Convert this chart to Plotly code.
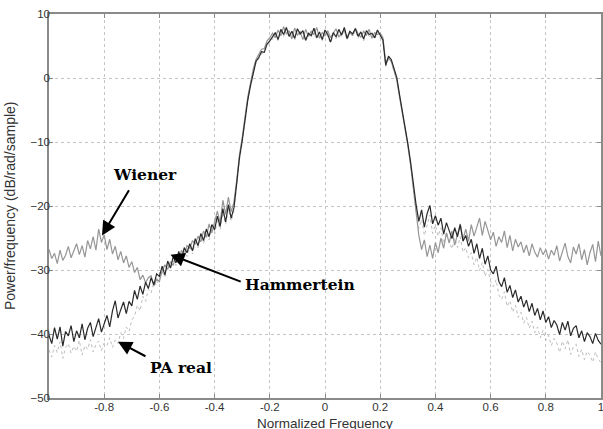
import numpy as np
import plotly.graph_objects as go

# Normalized frequency bins (x categories)
freq = np.round(np.arange(-1.0, 1.0001, 0.01), 2)

hammerstein = [
    -40.2, -41.5, -39.0, -40.8, -38.9, -41.9, -39.6, -40.3, -38.7, -41.2, -39.5, -40.6, -38.4, -40.9, -39.1, -38.2, -40.4, -38.8, -37.6, -39.7, -38.3,
    -37.1, -38.9, -36.4, -34.8, -37.5, -36.2, -35.0, -36.8, -34.9, -35.6,
    -33.2, -34.6, -32.5, -33.8, -31.9, -32.9, -31.2, -32.3, -30.6, -31.0,
    -29.4, -30.8, -28.6, -29.7, -27.9, -28.9, -27.1, -28.4, -26.5, -27.3,
    -25.9, -27.0, -25.1, -26.2, -24.3, -25.4, -23.6, -24.8, -22.9, -23.7,
    -21.6, -23.2, -20.4, -22.5, -19.8, -21.9, -20.3,
    -16.5, -12.5, -9.8, -6.2, -3.5, -1.2, 1.0, 2.6, 3.2, 4.1, 4.0, 5.3, 5.8,
    6.4, 7.1, 6.0, 7.6, 6.8, 7.9, 6.5, 7.3, 6.2, 7.7, 6.9, 7.4, 5.9, 7.0, 6.6, 7.8, 6.3, 7.2, 6.0, 7.5,
    6.8, 5.6, 7.1, 6.4, 7.6, 6.7, 7.9, 6.2, 7.3, 6.9, 7.7, 6.5, 7.2, 6.1, 7.4, 6.8, 7.0, 6.3, 7.5, 6.6, 5.9,
    2.0, 3.4, 2.9, 1.4, 0.1, -2.6, -5.1, -7.4, -10.2, -13.1, -16.8,
    -19.8, -22.4, -20.6, -23.3, -21.2, -19.9, -22.8, -21.5,
    -23.0, -21.9, -24.4, -22.6, -23.9, -25.1, -23.4, -24.8, -22.9, -25.5,
    -24.6, -26.3, -25.2, -27.4, -25.9, -28.2, -26.6, -29.1, -27.8, -30.0,
    -30.6, -29.4, -31.8, -32.6, -31.2, -33.5, -32.4, -34.3, -33.1, -35.0,
    -34.1, -35.8, -34.7, -36.5, -35.2, -37.1, -36.0, -37.8, -36.4, -38.2,
    -37.3, -39.0, -37.9, -38.6, -40.1, -38.2, -39.4, -38.0, -40.3, -39.1,
    -38.7, -40.6, -39.5, -41.2, -39.8, -40.4, -41.5, -39.9, -41.0, -41.6,
]

wiener = [
    -26.8, -28.2, -27.4, -29.0, -26.9, -28.5, -27.7, -26.3, -28.1, -27.0, -25.9, -27.6, -26.2, -28.0, -25.4, -26.7, -24.8, -26.9, -23.6, -25.7, -24.5,
    -26.8, -25.2, -27.5, -26.3, -28.4, -27.1, -28.9, -27.8, -29.6, -28.7,
    -30.4, -29.6, -31.5, -30.8, -32.0, -31.2, -30.9, -32.5, -31.4, -31.8,
    -30.1, -29.2, -29.9, -28.7, -29.3, -27.6, -28.5, -26.9, -27.8, -26.2,
    -26.6, -25.4, -26.0, -24.7, -25.6, -23.9, -24.9, -22.8, -24.2, -22.4,
    -20.8, -22.6, -19.1, -21.3, -18.6, -20.9, -19.4,
    -16.0, -12.0, -9.3, -5.8, -3.0, -0.8, 1.4, 2.9, 3.6, 4.5, 4.6, 5.8, 6.3,
    7.0, 6.3, 7.5, 6.6, 8.0, 6.9, 7.4, 6.1, 7.8, 6.7, 7.2, 6.0, 7.6, 6.5, 7.3, 6.8, 7.9, 6.2, 7.1, 6.6,
    7.4, 6.3, 6.9, 7.7, 6.4, 7.0, 7.5, 6.1, 7.2, 6.6, 7.8, 6.9, 6.4, 7.3, 6.7, 7.6, 6.2, 7.1, 6.8, 7.0, 6.3,
    2.4, 3.1, 2.6, 1.0, -0.3, -2.9, -5.4, -7.8, -10.5, -13.5, -17.2,
    -21.5, -24.6, -26.8, -25.3, -27.9, -26.1, -28.2, -25.7,
    -27.3, -25.0, -26.6, -24.2, -25.8, -23.9, -26.1, -24.5, -22.8, -25.2,
    -23.6, -25.5, -22.9, -24.7, -23.2, -21.9, -24.6, -22.4, -23.8, -25.3,
    -24.1, -26.3, -24.8, -25.7, -23.9, -26.5, -24.6, -27.0, -25.2, -26.4,
    -25.6, -27.3, -26.1, -27.8, -25.9, -27.2, -28.0, -26.5, -27.6, -26.8,
    -28.3, -26.9, -27.7, -26.2, -28.6, -27.1, -25.8, -27.9, -28.9, -26.4,
    -27.5, -25.9, -28.4, -26.8, -29.2, -27.3, -26.0, -28.7, -25.5, -27.8,
]

pa_real = [
    -42.5, -43.6, -41.8, -42.9, -41.2, -43.8, -42.1, -41.5, -43.0, -41.9, -42.7, -41.0, -43.3, -41.8, -42.4, -40.9, -42.8, -41.6, -41.1, -42.6, -41.4,
    -41.8, -40.6, -42.1, -40.9, -41.5, -39.8, -40.7, -38.9, -39.6, -37.8,
    -37.2, -35.5, -36.4, -34.1, -34.9, -33.0, -33.6, -31.9, -32.4, -31.2,
    -30.3, -31.1, -29.2, -29.8, -28.5, -29.3, -27.6, -28.7, -27.0, -27.9,
    -26.4, -27.5, -25.7, -26.5, -25.0, -25.9, -24.2, -25.3, -23.5, -24.4,
    -22.3, -23.7, -21.0, -22.9, -20.5, -22.4, -20.8,
    -16.8, -12.8, -10.1, -6.5, -3.8, -1.5, 0.8, 2.3, 3.0, 3.8, 4.3, 5.0, 5.6,
    6.1, 6.9, 5.8, 7.3, 6.5, 7.6, 6.3, 7.0, 5.9, 7.4, 6.6, 7.1, 5.7, 6.8, 6.4, 7.5, 6.0, 6.9, 5.8, 7.2,
    6.5, 5.4, 6.8, 6.1, 7.3, 6.4, 7.6, 5.9, 7.0, 6.6, 7.4, 6.2, 6.9, 5.8, 7.1, 6.5, 6.7, 6.0, 7.2, 6.3, 5.6,
    1.8, 3.0, 2.5, 1.1, -0.4, -3.0, -5.5, -7.9, -10.6, -13.6, -17.3,
    -21.0, -23.5, -22.1, -24.6, -22.9, -21.4, -24.3, -23.0,
    -24.7, -23.4, -25.9, -24.1, -25.6, -26.7, -25.0, -26.5, -24.8, -27.2,
    -26.5, -28.1, -27.3, -29.2, -28.0, -30.1, -28.8, -31.0, -29.9, -31.8,
    -32.6, -31.5, -33.9, -34.6, -33.4, -35.7, -34.8, -36.6, -35.5, -37.4,
    -36.6, -38.3, -37.4, -39.1, -38.0, -39.8, -38.9, -40.6, -39.4, -41.0,
    -40.2, -41.8, -40.7, -41.4, -42.9, -41.1, -42.3, -40.9, -43.2, -42.0,
    -41.6, -43.5, -42.4, -44.0, -42.7, -43.3, -44.4, -42.8, -43.9, -44.5,
]

x_ticks = [-0.8, -0.6, -0.4, -0.2, 0, 0.2, 0.4, 0.6, 0.8, 1]
x_tick_labels = ["-0.8", "-0.6", "-0.4", "-0.2", "0", "0.2", "0.4", "0.6", "0.8", "1"]
y_ticks = [-50, -40, -30, -20, -10, 0, 10]

fig = go.Figure()
fig.add_trace(go.Scatter(x=freq, y=pa_real, mode="lines", name="PA real",
                         line=dict(color="#bdbdbd", width=1, dash="dot")))
fig.add_trace(go.Scatter(x=freq, y=wiener, mode="lines", name="Wiener",
                         line=dict(color="#969696", width=1.2)))
fig.add_trace(go.Scatter(x=freq, y=hammerstein, mode="lines", name="Hammertein",
                         line=dict(color="#2a2a2a", width=1.2)))

label_font = dict(family="DejaVu Serif, Liberation Serif, serif", size=15.5, color="black")
labels = [
    ("<b>Wiener</b>", -0.652, -15.0, -0.707, -17.3, -0.808, -24.6),
    ("<b>Hammertein</b>", -0.092, -32.3, -0.30, -31.9, -0.56, -27.6),
    ("<b>PA real</b>", -0.52, -45.2, -0.645, -43.6, -0.75, -41.2),
]
annotations = []
for text, tx, ty, ax, ay, hx, hy in labels:
    annotations.append(dict(x=tx, y=ty, xref="x", yref="y", text=text, showarrow=False,
                            font=label_font))
    annotations.append(dict(x=hx, y=hy, ax=ax, ay=ay, xref="x", yref="y", axref="x", ayref="y",
                            text="", showarrow=True, arrowhead=2, arrowsize=1.4,
                            arrowwidth=2, arrowcolor="black"))

title_font = dict(family="Liberation Sans, Arial, sans-serif", size=14, color="#333")
annotations.append(dict(x=0.5, y=0, xref="paper", yref="paper", text="Normalized Frequency",
                        showarrow=False, xanchor="center", yanchor="top", yshift=-16,
                        font=dict(family="Liberation Sans, Arial, sans-serif", size=13.5, color="#333")))
annotations.append(dict(x=0, y=0.5, xref="paper", yref="paper", text="Power/frequency (dB/rad/sample)",
                        showarrow=False, textangle=-90, xanchor="center", yanchor="middle", xshift=-39,
                        font=title_font))

axis_common = dict(showline=True, linecolor="#8a8a8a", linewidth=1.5, mirror="ticks",
                   ticks="inside", ticklen=4, tickcolor="#8a8a8a",
                   showgrid=True, gridcolor="#c4c4c4", griddash="dot", gridwidth=1,
                   zeroline=False, automargin=False, ticklabeloverflow="allow",
                   tickfont=dict(family="Liberation Sans, Arial, sans-serif", size=11.5, color="#333"))

fig.update_layout(
    width=603, height=429,
    margin=dict(l=49, r=2, t=14, b=31),
    paper_bgcolor="white", plot_bgcolor="white",
    showlegend=False,
    annotations=annotations,
    xaxis=dict(range=[-1, 1], tickvals=x_ticks, ticktext=x_tick_labels,
               ticklabelstandoff=-3, **axis_common),
    yaxis=dict(range=[-50, 10], tickvals=y_ticks, ticklabelstandoff=-5, **axis_common),
)

fig.write_html("out.html", config={"displayModeBar": False},
               post_script="document.body.style.margin='0';document.body.style.padding='0';document.body.style.overflow='hidden';")
